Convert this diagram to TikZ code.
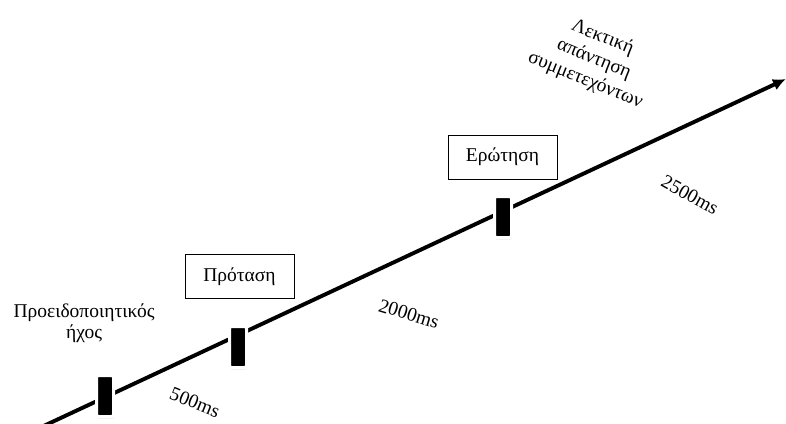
\documentclass[tikz,border=0pt]{standalone}
\usepackage{fontspec}
\setmainfont{Liberation Serif}
\usetikzlibrary{arrows.meta,shadows}
\begin{document}
\begin{tikzpicture}[x=1pt,y=-1pt,
  txt/.style={font=\fontsize{19.5}{21}\selectfont, inner sep=0pt, align=center},
  labelbox/.style={draw, line width=0.6pt, minimum width=109pt, minimum height=44pt, inner sep=0pt, font=\fontsize{19.5}{21}\selectfont},
  marker/.style={fill=black, draw=white, line width=3pt, rounded corners=1.5pt,
    minimum width=17pt, minimum height=41pt, inner sep=0pt,
    drop shadow={opacity=0.18, shadow xshift=0.5pt, shadow yshift=-2pt}},
  timeline/.style={line width=3.9pt, -{Latex[length=13pt,width=12pt]}},
]
\useasboundingbox (0,0) rectangle (786,423);
\coordinate (s) at (30,432.35);
\coordinate (e) at (786,79);
\draw[timeline] (s) -- (e);
\node[marker] (m1) at (105,396) {};
\node[marker] (m2) at (238,347) {};
\node[marker] (m3) at (503,217) {};
\node[txt] (warn) at (84,323) {Προειδοποιητικός\\ήχος};
\node[labelbox] (prop) at (239.5,276.5) {Πρόταση};
\node[labelbox] (quest) at (502.5,157) {Ερώτηση};
\node[txt, rotate=-22] (t1) at (195,402.5) {500ms};
\node[txt, rotate=-17] (t2) at (409,314) {2000ms};
\node[txt, rotate=-29] (t3) at (690,195) {2500ms};
\node[txt, font=\fontsize{19.5}{23}\selectfont, rotate=-22] (resp) at (594,59) {Λεκτική\\απάντηση\\συμμετεχόντων};
\end{tikzpicture}
\end{document}
